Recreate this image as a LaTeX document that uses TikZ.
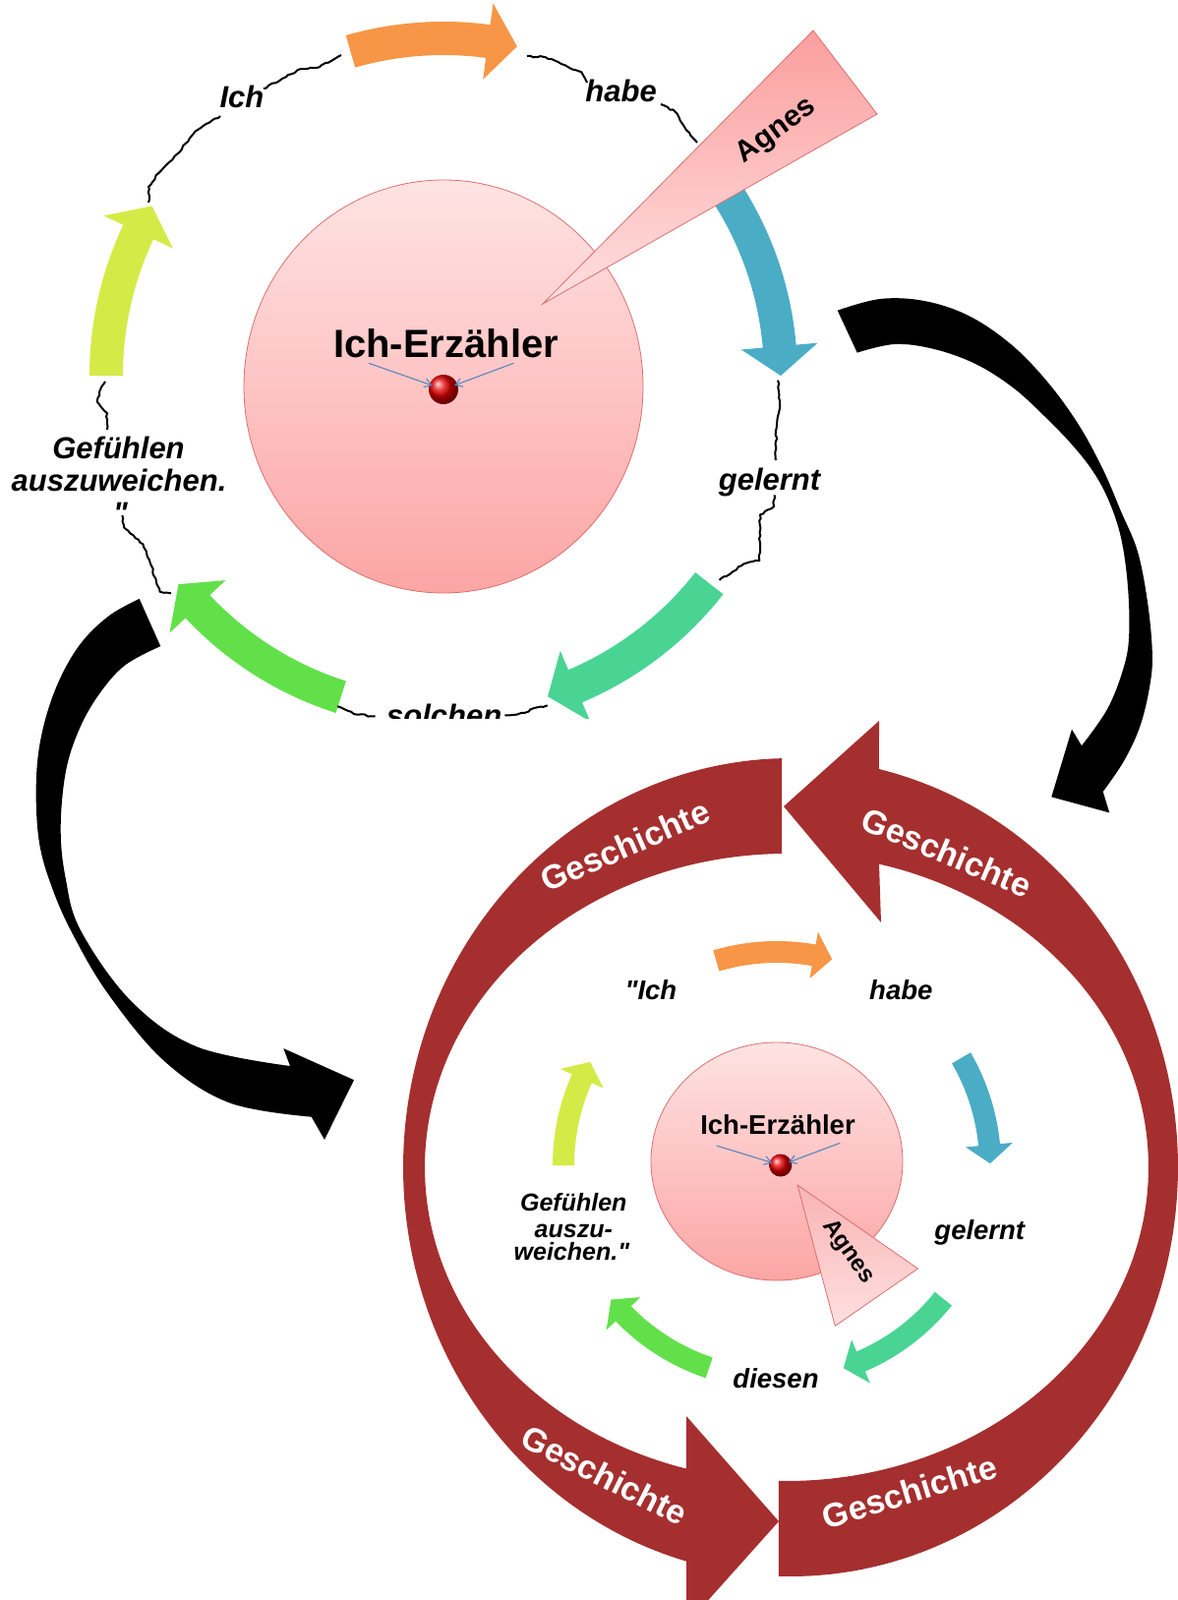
\documentclass[tikz,border=0pt]{standalone}
\usepackage{fontspec}
\setmainfont{Liberation Sans}[Ligatures=TeXOff]
\usetikzlibrary{arrows.meta,decorations.pathmorphing,shapes.geometric}
\definecolor{arOrange}{HTML}{F79646}
\definecolor{arBlue}{HTML}{4BACC6}
\definecolor{arTeal}{HTML}{4AD494}
\definecolor{arGreen}{HTML}{62E04A}
\definecolor{arYellow}{HTML}{D4EB47}
\definecolor{ringRed}{HTML}{A52F2F}
\definecolor{pinkTop}{HTML}{FFE3E3}
\definecolor{pinkBot}{HTML}{FCA5A5}
\definecolor{pinkEdge}{HTML}{D9706F}
\definecolor{triDark}{HTML}{FB9E9E}
\definecolor{triMid}{HTML}{F9B3B3}
\definecolor{triLight}{HTML}{FFE0E0}
\definecolor{smallBlue}{HTML}{4F81BD}
% #1 colour, #2 cx, #3 cy, #4 mid radius, #5 half band, #6 half head, #7 start angle, #8 tip angle, #9 head angle
\newcommand\cycarrow[9]{%
  \pgfmathsetmacro\cyab{#8-#9}%
  \fill[#1] plot[domain=#7:\cyab,samples=40,variable=\t] ({#2+(#4+#5)*cos(\t)},{#3+(#4+#5)*sin(\t)})
    -- ({#2+(#4+#6)*cos(\cyab)},{#3+(#4+#6)*sin(\cyab)})
    -- ({#2+#4*cos(#8)},{#3+#4*sin(#8)})
    -- ({#2+(#4-#6)*cos(\cyab)},{#3+(#4-#6)*sin(\cyab)})
    -- plot[domain=\cyab:#7,samples=40,variable=\t] ({#2+(#4-#5)*cos(\t)},{#3+(#4-#5)*sin(\t)})
    -- cycle;}
\begin{document}
\begin{tikzpicture}[x=1pt,y=-1pt,
  topword/.style={font=\fontsize{31}{33}\selectfont\bfseries\itshape,anchor=base,inner sep=0pt},
  botword/.style={font=\fontsize{27.5}{29}\selectfont\bfseries\itshape,anchor=base,inner sep=0pt},
  botgef/.style={font=\fontsize{25}{26}\selectfont\bfseries\itshape,anchor=base,inner sep=0pt},
  gesch/.style={font=\fontsize{34}{36}\selectfont\bfseries,text=white,inner sep=0pt},
  wave/.style={line width=2pt,line join=round,decorate,decoration={random steps,segment length=3.5pt,amplitude=0.9pt}},
  smallarr/.style={draw=smallBlue,line width=1pt,-{Straight Barb[length=7pt,width=9pt]}},
  pinkcircle/.style={ellipse,draw=pinkEdge,line width=0.8pt,top color=pinkTop,bottom color=pinkBot,inner sep=0pt},
  redball/.style={circle,inner sep=0pt,shade,ball color=red!90!black},
  ringpart/.style={fill=ringRed},
  bigblack/.style={fill=black}
  ]
\useasboundingbox (0,0) rectangle (1198,1627);

% ================= TOP CYCLE (clipped) =================
\begin{scope}
\clip (0,0) rectangle (1198,730);
\cycarrow{arOrange}{451}{382}{343}{17}{39}{-106}{-77.4}{5}
\cycarrow{arBlue}{451}{382}{343}{17}{39}{-36}{0}{5}
\cycarrow{arTeal}{451}{382}{343}{18}{39}{38}{72}{5}
\cycarrow{arGreen}{451}{382}{343}{17}{39}{107.7}{141.8}{5}
\cycarrow{arYellow}{451}{382}{343}{17}{39}{180}{210.2}{5}

\node[pinkcircle,minimum width=406pt,minimum height=420pt] (circ1) at (451,393) {};

% texts
\node[topword] (t1ich) at (246,110) {Ich};
\node[topword] (t1habe) at (631.6,103.3) {habe};
\node[topword] (t1gel) at (782.5,498.3) {gelernt};
\node[topword] (t1sol) at (451.7,738) {solchen};
\node[topword] (t1gefa) at (120.5,466.5) {Gefühlen};
\node[topword] (t1gefb) at (121,499) {auszuweichen.};
\node[topword] (t1gefc) at (122.5,532) {"};

% wavy connectors
\coordinate (w1s) at (151,206);
\coordinate (w1e) at (224,118);
\draw[wave] (w1s) -- (151,190) -- (160.7,176.7) -- (180,156.7) -- (199,133.3) -- (212.4,125) -- (w1e);
\coordinate (w2s) at (268,90);
\coordinate (w2e) at (347,56);
\draw[wave] (w2s) -- (290.9,78.3) -- (306,70) -- (325,68.3) -- (w2e);
\coordinate (w3s) at (536,57);
\coordinate (w3e) at (597,84);
\draw[wave] (w3s) -- (555,58.3) -- (570.7,65) -- (591.3,73.3) -- (w3e);
\coordinate (w4s) at (672,106);
\coordinate (w4e) at (709,145);
\draw[wave] (w4s) -- (686.4,113.3) -- (694.6,126.7) -- (w4e);
\coordinate (w5s) at (791,386.7);
\coordinate (w5e) at (788.8,468);
\draw[wave] (w5s) -- (793,410) -- (789.7,435) -- (w5e);
\coordinate (w6s) at (787.6,503.3);
\coordinate (w6e) at (731.8,590);
\draw[wave] (w6s) -- (787,515) -- (773,523.3) -- (772.3,570) -- (756.6,573.3) -- (w6e);
\coordinate (w7s) at (556.7,717.3);
\coordinate (w7e) at (513.3,727.3);
\draw[wave] (w7s) -- (543.3,720) -- (533.3,725) -- (w7e);
\coordinate (w8s) at (381.7,728.3);
\coordinate (w8e) at (343.3,718.3);
\draw[wave] (w8s) -- (363.3,726.7) -- (w8e);
\coordinate (w9s) at (174,603.3);
\coordinate (w9e) at (124.4,524);
\draw[wave] (w9s) -- (162.6,601.7) -- (153,573.3) -- (145.4,553.3) -- (126.3,536.7) -- (w9e);
\coordinate (w10s) at (109,437);
\coordinate (w10e) at (107,388);
\draw[wave] (w10s) -- (109,420) -- (98.7,408.3) -- (103.3,393.3) -- (w10e);

% centre
\node[font=\fontsize{40}{42}\selectfont\bfseries,anchor=base,inner sep=0pt] (ie1) at (453.5,363) {Ich-Erzähler};
\node[redball,minimum size=30pt] (ball1) at (451,396) {};
\coordinate (sa1) at (375,369.3);
\coordinate (sa2) at (522.4,369.3);
\draw[smallarr,shorten >=12pt] (sa1) -- (ball1.center);
\draw[smallarr,shorten >=12pt] (sa2) -- (ball1.center);

% Agnes wedge
\path[draw=pinkEdge,line width=0.8pt,top color=triDark,bottom color=triLight] (552,309) -- (827,31) -- (892,116) -- cycle;
\node[font=\fontsize{30}{32}\selectfont\bfseries,rotate=36] (agnes1) at (789.7,133.3) {Agnes};
\end{scope}

% ================= BLACK CONNECTING ARROWS =================
\fill[bigblack] plot[smooth,tension=0.6] coordinates {(851.7,315.7) (895,304) (940,306) (985,321) (1028,350) (1065,388) (1097,432) (1122,478) (1140,520) (1156.7,560) (1166.7,610) (1171.7,660) (1170,693.3) (1160,736.7) (1143.3,773.3) (1121.7,805)}
  -- (1128.3,826.4) -- (1069.3,810.4) -- (1090,741.7) --
  plot[smooth,tension=0.6] coordinates {(1100,758.3) (1126.7,720) (1143.3,676.7) (1148.3,643.3) (1146.7,593.3) (1140,546.7) (1128,510) (1112,480) (1090,452) (1062,423) (1030,394) (992,370) (950,355) (910,350) (871.7,358.6)}
  -- cycle;

\fill[bigblack] plot[smooth,tension=0.6] coordinates {(141.7,608.9) (110,626.8) (80,657.1) (56.7,700) (41.7,750) (36.7,800) (40,857.1) (53.3,903.6) (74,950) (110,1010.7) (166.7,1078.6) (233.3,1121.4) (316.7,1135.7)}
  -- (330,1158.9) -- (360,1098.2) -- (288.3,1066.1) --
  plot[smooth,tension=0.6] coordinates {(295,1084) (200,1064.3) (133.3,1017.9) (82,946) (66.7,892.9) (61.7,842.9) (66.7,785.7) (80,742.9) (100,707.1) (126.7,676.8) (163.3,657.1)}
  -- cycle;

% ================= BOTTOM CYCLE =================
% red ring
\fill[ringpart] plot[domain=180:268.69,samples=60,variable=\t] ({804+394*cos(\t)},{1187+416*sin(\t)})
  -- plot[domain=269.22:180,samples=60,variable=\t] ({800+368*cos(\t)},{1187+319*sin(\t)}) -- cycle;
\fill[ringpart] plot[domain=360:283.2,samples=60,variable=\t] ({804+394*cos(\t)},{1187+416*sin(\t)})
  -- (894,733) -- (797,820) -- (896,938)
  -- plot[domain=284.8:360,samples=60,variable=\t] ({800+368*cos(\t)},{1187+319*sin(\t)}) -- cycle;
\fill[ringpart] plot[domain=180:105.6,samples=60,variable=\t] ({804+394*cos(\t)},{1187+416*sin(\t)})
  -- (698,1652) -- (792,1547) -- (698,1440)
  -- plot[domain=106.1:180,samples=60,variable=\t] ({800+368*cos(\t)},{1187+319*sin(\t)}) -- cycle;
\fill[ringpart] plot[domain=0:91.75,samples=60,variable=\t] ({804+394*cos(\t)},{1187+416*sin(\t)})
  -- plot[domain=91.25:0,samples=60,variable=\t] ({800+368*cos(\t)},{1187+319*sin(\t)}) -- cycle;

\node[gesch,rotate=23.7] (g1) at (635.6,860) {Geschichte};
\node[gesch,rotate=-22.8] (g2) at (963,866.7) {Geschichte};
\node[gesch,rotate=-26.7] (g3) at (614.8,1500) {Geschichte};
\node[gesch,rotate=17] (g4) at (925,1516.7) {Geschichte};

% inner cycle arrows
\cycarrow{arOrange}{790}{1185}{217}{11}{24}{-106.5}{-75}{5}
\cycarrow{arBlue}{790}{1185}{217}{11}{24}{-30.2}{-0.5}{5}
\cycarrow{arTeal}{790}{1185}{217}{11}{24}{38.7}{71.8}{5}
\cycarrow{arGreen}{790}{1185}{217}{11}{24}{108.5}{141}{5}
\cycarrow{arYellow}{790}{1185}{217}{11}{24}{180}{209}{5}

\node[botword] (t2ich) at (661.9,1016.7) {"Ich};
\node[botword] (t2habe) at (916.3,1016.7) {habe};
\node[botword] (t2gel) at (996.3,1260) {gelernt};
\node[botword] (t2dies) at (789,1411.7) {diesen};
\node[botgef] (t2gefa) at (583.3,1231.7) {Gefühlen};
\node[botgef] (t2gefb) at (583.3,1258.3) {auszu-};
\node[botgef] (t2gefc) at (581.4,1281.7) {weichen."};

\node[pinkcircle,minimum width=256pt,minimum height=242pt] (circ2) at (790,1181) {};
\node[font=\fontsize{27.5}{29}\selectfont\bfseries,anchor=base,inner sep=0pt] (ie2) at (791,1153) {Ich-Erzähler};
\node[redball,minimum size=23pt] (ball2) at (793.8,1185) {};
\coordinate (sb1) at (728.8,1165);
\coordinate (sb2) at (854.3,1162.3);
\draw[smallarr,shorten >=9pt] (sb1) -- (ball2.center);
\draw[smallarr,shorten >=9pt] (sb2) -- (ball2.center);

\path[draw=pinkEdge,line width=0.8pt,top color=triMid,bottom color=triLight] (811,1205) -- (933.5,1290) -- (849.3,1348.3) -- cycle;
\node[font=\fontsize{24}{26}\selectfont\bfseries,rotate=-55] (agnes2) at (862.7,1273.3) {Agnes};
\end{tikzpicture}
\end{document}
